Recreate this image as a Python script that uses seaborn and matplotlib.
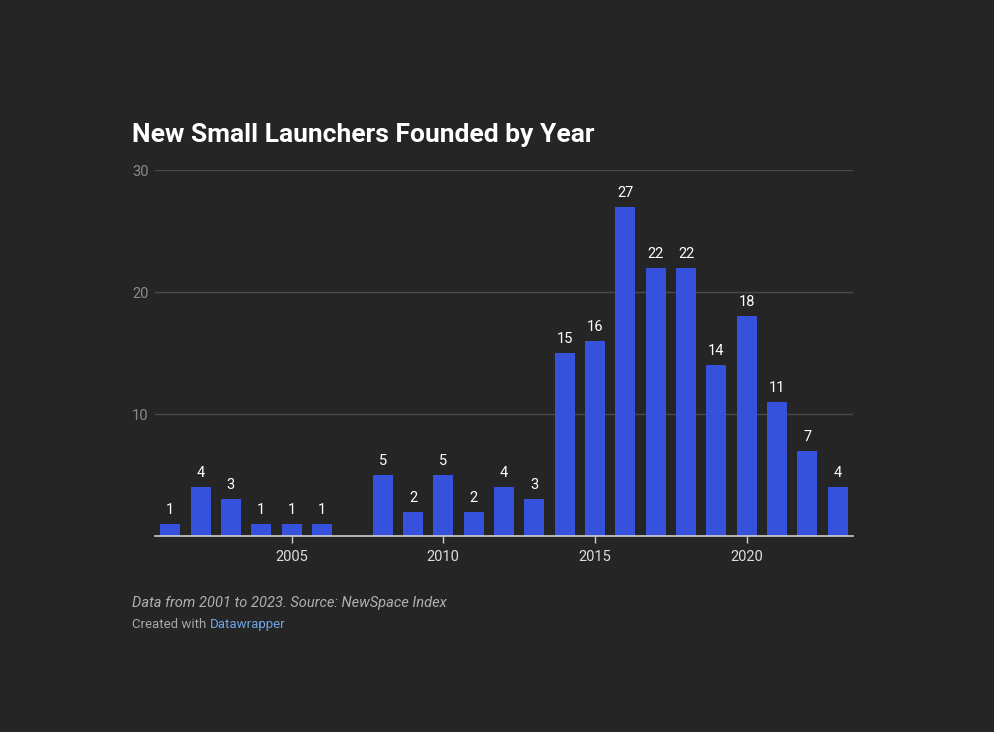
import matplotlib
matplotlib.use("Agg")
import matplotlib.pyplot as plt
import seaborn as sns
import pandas as pd

years = [2001, 2002, 2003, 2004, 2005, 2006, 2008, 2009, 2010, 2011, 2012,
         2013, 2014, 2015, 2016, 2017, 2018, 2019, 2020, 2021, 2022, 2023]
counts = [1, 4, 3, 1, 1, 1, 5, 2, 5, 2, 4, 3, 15, 16, 27, 22, 22, 14, 18, 11, 7, 4]
x_ticks = [2005, 2010, 2015, 2020]
y_ticks = [10, 20, 30]

title = "New Small Launchers Founded by Year"
note = "Data from 2001 to 2023. Source: NewSpace Index"

BG = "#252525"
BAR = "#3652DC"

sns.set_theme(style="dark")
plt.rcParams['font.family'] = ['Roboto', 'DejaVu Sans']

df = pd.DataFrame({"year": years, "count": counts})

fig = plt.figure(figsize=(9.94, 7.32), dpi=100, facecolor=BG)
W, H = 994, 732
ax = fig.add_axes([155 / W, 1 - 536 / H, (853 - 155) / W, (536 - 170) / H])
ax.set_facecolor(BG)

sns.barplot(data=df, x="year", y="count", native_scale=True, color=BAR,
            saturation=1, width=0.66, ax=ax, zorder=3, linewidth=0,
            edgecolor=BAR)

for c in ax.containers:
    ax.bar_label(c, padding=5, color="white", fontsize=10.5)

ax.set_xlim(2000.5, 2023.5)
ax.set_ylim(0, 30)
ax.set_yticks(y_ticks)
ax.set_xticks(x_ticks)
ax.set_xticklabels([str(t) for t in x_ticks])
ax.set_yticklabels([str(t) for t in y_ticks])
ax.grid(axis="y", color="#4a4a4a", linewidth=1, zorder=0)
ax.grid(axis="x", visible=False)
for s in ["top", "right", "left"]:
    ax.spines[s].set_visible(False)
ax.spines["bottom"].set_color("#d0d0d0")
ax.spines["bottom"].set_linewidth(1.2)
ax.spines["bottom"].set_zorder(5)
ax.tick_params(axis="x", colors="#d0d0d0", labelcolor="#dddddd", length=5,
               width=1, direction="out", labelsize=10.5, pad=5, bottom=True)
ax.tick_params(axis="y", length=0, labelcolor="#8a8a8a", labelsize=10.5, pad=4.5)
ax.set_xlabel("")
ax.set_ylabel("")

fig.text(132 / W, 1 - 142 / H, title, color="white", fontsize=19,
         fontweight="bold", ha="left", va="baseline")
fig.text(132 / W, 1 - 607 / H, note, color="#b0b0b0", fontsize=10.5,
         fontstyle="italic", ha="left", va="baseline")
t1 = fig.text(132 / W, 1 - 628 / H, "Created with ", color="#a8a8a8",
              fontsize=9.5, ha="left", va="baseline")
fig.canvas.draw()
bb = t1.get_window_extent()
fig.text(bb.x1 / W, 1 - 628 / H, "Datawrapper", color="#6ea6e6",
         fontsize=9.5, ha="left", va="baseline")

fig.savefig("out.png", dpi=100, facecolor=BG)
